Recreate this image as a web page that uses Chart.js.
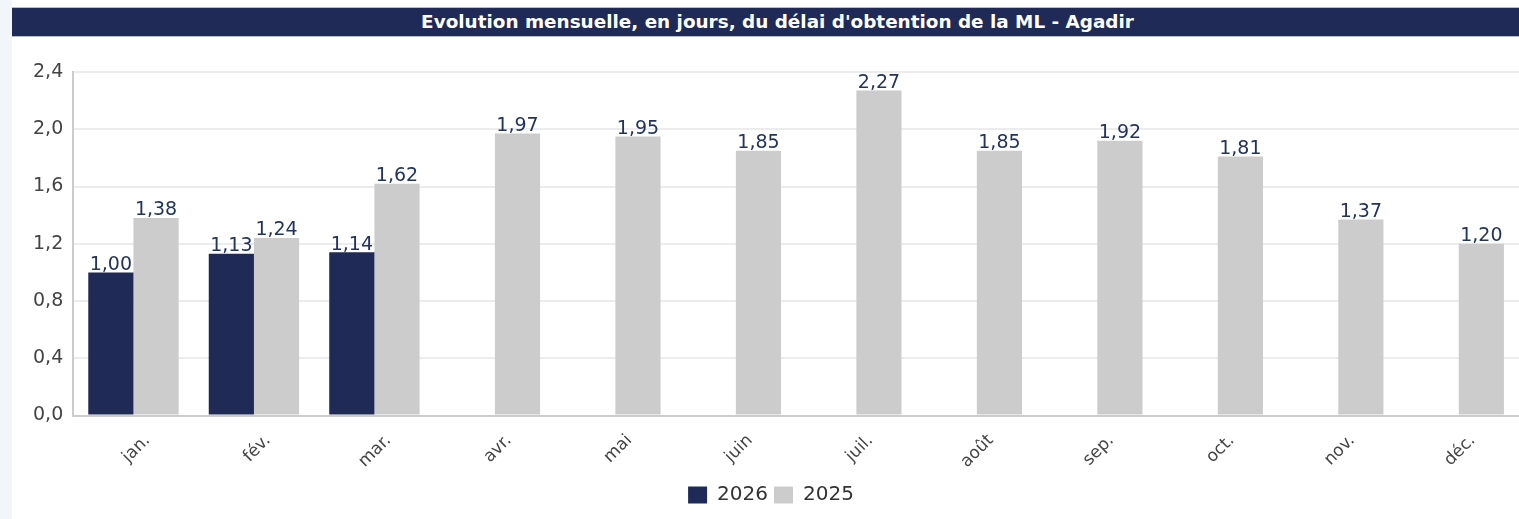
<!DOCTYPE html>
<html>
<head>
<meta charset="utf-8">
<script src="https://cdn.jsdelivr.net/npm/chart.js@4.4.1/dist/chart.umd.min.js"></script>
<style>
  html, body { margin: 0; padding: 0; background: #ffffff; overflow: hidden; }
  #strip { position: absolute; left: 0; top: 0; width: 12px; height: 519px; background: #f2f6fa; }
  #title {
    position: absolute; left: 12px; top: 8px; width: 1483px; height: 28px; padding-left: 24px;
    background: #1f2a56; color: #ffffff; text-align: center;
    font: bold 18.4px "DejaVu Sans", sans-serif; line-height: 28px;
    box-shadow: 0 -1px 0 #b8bdcc, 0 1px 0 #b8bdcc;
  }
  #wrap { position: absolute; left: 12px; top: 40px; width: 1507px; height: 479px; }
</style>
</head>
<body>
<div id="strip"></div>
<div id="title">Evolution mensuelle, en jours, du délai d'obtention de la ML - Agadir</div>
<div id="wrap"><canvas id="chart" width="1507" height="479"></canvas></div>
<script>
// months on the x axis
const months = ['jan.', 'fév.', 'mar.', 'avr.', 'mai', 'juin', 'juil.', 'août', 'sep.', 'oct.', 'nov.', 'déc.'];

// délai d'obtention, in days
const values2026 = [1.00, 1.13, 1.14, null, null, null, null, null, null, null, null, null];
const values2025 = [1.38, 1.24, 1.62, 1.97, 1.95, 1.85, 2.27, 1.85, 1.92, 1.81, 1.37, 1.20];

// y axis ticks
const yMin = 0;
const yMax = 2.4;
const yStep = 0.4;

const navy = '#1f2a56';
const grey = '#cccccc';

// french decimal comma:
function fr(v, digits) {
  return v.toFixed(digits).replace('.', ',');
}

// draws the value above each bar:
const barLabels = {
  id: 'barLabels',
  afterDatasetsDraw(chart) {
    const ctx = chart.ctx;
    ctx.save();
    ctx.font = '19px "DejaVu Sans", sans-serif';
    ctx.fillStyle = '#22335e';
    ctx.textAlign = 'center';
    ctx.textBaseline = 'bottom';
    chart.data.datasets.forEach((ds, i) => {
      const meta = chart.getDatasetMeta(i);
      meta.data.forEach((bar, j) => {
        const v = ds.data[j];
        if (v === null) return;
        ctx.fillText(fr(v, 2), bar.x, bar.y + 2);
      });
    });
    ctx.restore();
  }
};

const chart = new Chart(document.getElementById('chart'), {
  type: 'bar',
  data: {
    labels: months,
    datasets: [
      { label: '2026', data: values2026, backgroundColor: navy },
      { label: '2025', data: values2025, backgroundColor: grey }
    ]
  },
  options: {
    responsive: false,
    animation: false,
    categoryPercentage: 0.75,
    barPercentage: 1.0,
    layout: { padding: { top: 32, right: 0, left: 11, bottom: 4 } },
    plugins: {
      legend: {
        position: 'bottom',
        labels: {
          boxWidth: 19, boxHeight: 17, padding: 6,
          color: '#333333',
          font: { family: '"DejaVu Sans", sans-serif', size: 20 }
        }
      },
      tooltip: { enabled: false }
    },
    scales: {
      x: {
        grid: { display: false },
        border: { display: true, color: '#cccccc', width: 2 },
        ticks: {
          color: '#444444',
          maxRotation: 45, minRotation: 45,
          padding: 7,
          labelOffset: 14,
          font: { family: '"DejaVu Sans", sans-serif', size: 17 }
        }
      },
      y: {
        min: yMin, max: yMax,
        grid: { color: '#ececec', drawTicks: false, lineWidth: 2 },
        border: { display: true, color: '#cccccc', width: 2 },
        ticks: {
          stepSize: yStep,
          padding: 10,
          color: '#444444',
          font: { family: '"DejaVu Sans", sans-serif', size: 19 },
          callback: (v) => fr(v, 1)
        }
      }
    }
  },
  plugins: [barLabels]
});
</script>
</body>
</html>
